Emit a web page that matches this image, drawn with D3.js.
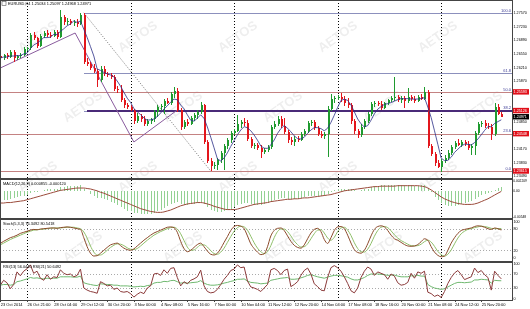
<!DOCTYPE html>
<html lang="en">
<head>
<meta charset="UTF-8">
<title>EURUSD,H4</title>
<script src="https://cdnjs.cloudflare.com/ajax/libs/d3/7.9.0/d3.min.js"></script>
<style>
  body { margin: 0; background: #fff; }
  svg { display: block; font-family: "Liberation Sans", Arial, sans-serif; }
</style>
</head>
<body>
<svg id="chart" width="530" height="309"></svg>
<script>
// ---- data (EURUSD H4, 23 Oct - 26 Nov 2014) ----
const opens = [1.26490,1.26440,1.26515,1.26465,1.26590,1.26440,1.26490,1.26515,1.26665,1.26690,1.27015,1.26940,1.26740,1.26990,1.27065,1.27015,1.26990,1.27090,1.26965,1.27465,1.27340,1.27365,1.27315,1.27340,1.27290,
 1.27515,1.26340,1.26290,1.26190,1.26115,1.25890,1.26165,1.26040,1.26015,1.25965,1.25665,1.25640,1.25390,1.25265,1.25215,1.25140,1.24865,1.24990,1.24915,1.24790,1.24865,1.24915,1.25090,1.25215,1.25240,
 1.25365,1.25315,1.25540,1.25615,1.25140,1.24715,1.24840,1.24790,1.24940,1.25015,1.25090,1.25265,1.24340,1.23865,1.23740,1.23765,1.23890,1.24065,1.24240,1.24390,1.24565,1.24615,1.24790,1.24840,1.24815,
 1.24415,1.24240,1.24265,1.24190,1.24090,1.24140,1.24215,1.24715,1.24790,1.24915,1.24740,1.24590,1.24390,1.24340,1.24415,1.24390,1.24540,1.24615,1.24815,1.24840,1.24690,1.24540,1.24490,1.24540,1.25165,
 1.25415,1.25440,1.25465,1.25415,1.25315,1.25265,1.24865,1.24615,1.24515,1.24715,1.24865,1.25040,1.25290,1.25315,1.25290,1.25190,1.25315,1.25390,1.25440,1.25465,1.25390,1.25440,1.25365,1.25465,1.25415,
 1.25365,1.25465,1.25415,1.25590,1.24240,1.24040,1.23815,1.23715,1.23865,1.23940,1.24065,1.24215,1.24315,1.24265,1.24340,1.24290,1.24190,1.24240,1.24565,1.24790,1.24815,1.24740,1.24715,1.24540,1.25215,
 1.25034];
const highs = [1.26590,1.26540,1.26565,1.26640,1.26640,1.26515,1.26565,1.26715,1.26715,1.27065,1.27090,1.26965,1.27040,1.27115,1.27140,1.27090,1.27140,1.27140,1.27640,1.27515,1.27440,1.27415,1.27390,1.27415,1.27565,
 1.27570,1.26440,1.26340,1.26290,1.26165,1.26240,1.26240,1.26090,1.26065,1.26015,1.25740,1.25765,1.25440,1.25315,1.25265,1.25165,1.25065,1.25040,1.24990,1.24915,1.24940,1.25140,1.25265,1.25290,1.25415,
 1.25440,1.25590,1.25715,1.25690,1.25190,1.24890,1.24915,1.24990,1.25065,1.25140,1.25340,1.25290,1.24390,1.23940,1.23840,1.23940,1.24115,1.24290,1.24440,1.24615,1.24665,1.25015,1.24890,1.24940,1.24890,
 1.24465,1.24315,1.24315,1.24265,1.24190,1.24265,1.24765,1.24865,1.24990,1.24990,1.24940,1.24640,1.24465,1.24490,1.24490,1.24590,1.24665,1.24865,1.24890,1.24890,1.24740,1.24615,1.24590,1.25240,1.25540,
 1.25490,1.25515,1.25565,1.25490,1.25440,1.25315,1.24915,1.24665,1.24790,1.24915,1.25090,1.25340,1.25365,1.25365,1.25365,1.25340,1.25415,1.25490,1.25965,1.25515,1.25490,1.25490,1.25690,1.25515,1.25490,
 1.25515,1.25540,1.25715,1.25640,1.24290,1.24090,1.23890,1.23915,1.24015,1.24140,1.24265,1.24365,1.24415,1.24390,1.24390,1.24365,1.24290,1.24615,1.24840,1.24865,1.24890,1.24815,1.24790,1.25315,1.25290,
 1.25097];
const lows = [1.26390,1.26390,1.26415,1.26440,1.26340,1.26390,1.26440,1.26490,1.26615,1.26640,1.26890,1.26690,1.26715,1.26940,1.26965,1.26940,1.26965,1.26915,1.26940,1.27265,1.27265,1.27265,1.27240,1.27215,1.27265,
 1.26290,1.26240,1.26140,1.26065,1.25715,1.25840,1.25990,1.25965,1.25915,1.25615,1.25565,1.25340,1.25190,1.25165,1.25115,1.24790,1.24815,1.24840,1.24740,1.24740,1.24790,1.24840,1.24965,1.25140,1.25040,
 1.25290,1.25265,1.25440,1.25090,1.24640,1.24665,1.24740,1.24765,1.24865,1.24915,1.25040,1.24290,1.23815,1.23615,1.23665,1.23640,1.23815,1.23640,1.24165,1.24315,1.24515,1.24590,1.24690,1.24740,1.24365,
 1.24190,1.24165,1.24140,1.23940,1.24040,1.24090,1.24165,1.24665,1.24740,1.24690,1.24540,1.24315,1.24265,1.24240,1.24340,1.24365,1.24490,1.24565,1.24740,1.24640,1.24490,1.24440,1.24415,1.23965,1.25115,
 1.25315,1.25390,1.25340,1.25240,1.25190,1.24790,1.24540,1.24440,1.24465,1.24665,1.24815,1.24990,1.25215,1.25240,1.25140,1.25165,1.25265,1.25340,1.25365,1.25340,1.25315,1.25190,1.25315,1.25365,1.25315,
 1.25340,1.25390,1.25390,1.24190,1.23990,1.23740,1.23690,1.23590,1.23815,1.23890,1.24015,1.24165,1.24240,1.24215,1.24240,1.24140,1.24015,1.24015,1.24515,1.24715,1.24690,1.24665,1.24390,1.24490,1.25015,
 1.24968];
const closes = [1.26440,1.26515,1.26465,1.26590,1.26440,1.26490,1.26515,1.26665,1.26690,1.27015,1.26940,1.26740,1.26990,1.27065,1.27015,1.26990,1.27090,1.26965,1.27465,1.27340,1.27365,1.27315,1.27340,1.27290,1.27515,
 1.26340,1.26290,1.26190,1.26115,1.25890,1.26165,1.26040,1.26015,1.25965,1.25665,1.25640,1.25390,1.25265,1.25215,1.25140,1.24865,1.24990,1.24915,1.24790,1.24865,1.24915,1.25090,1.25215,1.25240,1.25365,
 1.25315,1.25540,1.25615,1.25140,1.24715,1.24840,1.24790,1.24940,1.25015,1.25090,1.25265,1.24340,1.23865,1.23740,1.23765,1.23890,1.24065,1.24240,1.24390,1.24565,1.24615,1.24790,1.24840,1.24815,1.24415,
 1.24240,1.24265,1.24190,1.24090,1.24140,1.24215,1.24715,1.24790,1.24915,1.24740,1.24590,1.24390,1.24340,1.24415,1.24390,1.24540,1.24615,1.24815,1.24840,1.24690,1.24540,1.24490,1.24540,1.25165,1.25415,
 1.25440,1.25465,1.25415,1.25315,1.25265,1.24865,1.24615,1.24515,1.24715,1.24865,1.25040,1.25290,1.25315,1.25290,1.25190,1.25315,1.25390,1.25440,1.25465,1.25390,1.25440,1.25365,1.25465,1.25415,1.25365,
 1.25465,1.25415,1.25590,1.24240,1.24040,1.23815,1.23715,1.23865,1.23940,1.24065,1.24215,1.24315,1.24265,1.24340,1.24290,1.24190,1.24240,1.24565,1.24790,1.24815,1.24740,1.24715,1.24540,1.25215,1.25034,
 1.24971];
// short moving average line drawn over the candles
const maLine = [1.26440,1.26465,1.26465,1.26490,1.26490,1.26500,1.26500,1.26540,1.26560,1.26675,1.26765,1.26810,1.26875,1.26950,1.26950,1.26960,1.27030,1.27025,1.27105,1.27170,1.27245,1.27290,1.27365,1.27330,1.27365,
 1.27160,1.26955,1.26725,1.26490,1.26165,1.26130,1.26080,1.26045,1.26015,1.25970,1.25865,1.25735,1.25585,1.25435,1.25330,1.25175,1.25095,1.25025,1.24940,1.24885,1.24895,1.24915,1.24975,1.25065,1.25165,
 1.25245,1.25335,1.25415,1.25395,1.25265,1.25170,1.25020,1.24885,1.24860,1.24935,1.25020,1.24930,1.24715,1.24460,1.24195,1.23920,1.23865,1.23940,1.24070,1.24230,1.24375,1.24520,1.24640,1.24725,1.24695,
 1.24620,1.24515,1.24385,1.24240,1.24185,1.24180,1.24270,1.24390,1.24555,1.24675,1.24750,1.24685,1.24595,1.24495,1.24425,1.24415,1.24460,1.24555,1.24640,1.24700,1.24700,1.24675,1.24620,1.24685,1.24830,
 1.25010,1.25205,1.25380,1.25410,1.25380,1.25265,1.25095,1.24915,1.24795,1.24715,1.24750,1.24885,1.25045,1.25160,1.25225,1.25280,1.25300,1.25325,1.25360,1.25400,1.25425,1.25420,1.25425,1.25415,1.25410,
 1.25415,1.25425,1.25450,1.25215,1.24950,1.24620,1.24280,1.23935,1.23875,1.23880,1.23960,1.24080,1.24160,1.24240,1.24285,1.24280,1.24265,1.24325,1.24415,1.24520,1.24630,1.24725,1.24720,1.24805,1.24850,
 1.24895];

// time labels, one every 8 bars
const timeLabels = ["23 Oct 2014","26 Oct 21:00","28 Oct 04:00","29 Oct 12:00","30 Oct 20:00","3 Nov 00:00","4 Nov 08:00","5 Nov 16:00","7 Nov 00:00","10 Nov 04:00",
 "11 Nov 12:00","12 Nov 20:00","14 Nov 04:00","17 Nov 08:00","18 Nov 16:00","20 Nov 00:00","21 Nov 08:00","24 Nov 12:00","25 Nov 20:00"];
const weekStarts = [8, 39, 70, 101, 132]; // Sunday bars -> dotted grid
const priceTicks = [1.27570,1.27230,1.26890,1.26550,1.26210,1.25870,1.24850,1.24170,1.23830,1.23490];

// fibonacci retracement and horizontal lines
const fibHigh = 1.27570, fibLow = 1.23615;
const fibLevels = [100, 61.8, 50, 38.2, 23.6, 0];
const hLines = [1.25593, 1.25126, 1.24548, 1.23615];

// hand drawn lines: [bar, price]
const trendLines = [
  [[0, 1.26190], [22.4, 1.27065]],
  [[22.4, 1.27065], [40, 1.24340]],
  [[40, 1.24340], [53, 1.25140]]
];
const fibDiagonal = [[25, 1.27570], [63, 1.23615]];

// MACD(12,26,9)
const macdMain = [-0.0022,-0.0020,-0.0019,-0.0017,-0.0016,-0.0014,-0.0012,-0.0010,-0.0008,-0.0005,-0.0003,-0.0002,0.0000,0.0002,0.0003,0.0004,0.0005,0.0005,0.0008,0.0009,0.0010,0.0010,0.0010,0.0010,0.0012,
 0.0005,-0.0001,-0.0006,-0.0011,-0.0015,-0.0016,-0.0018,-0.0020,-0.0023,-0.0027,-0.0031,-0.0035,-0.0039,-0.0042,-0.0044,-0.0047,-0.0048,-0.0049,-0.0050,-0.0050,-0.0049,-0.0047,-0.0044,-0.0041,-0.0037,
 -0.0033,-0.0029,-0.0025,-0.0024,-0.0028,-0.0030,-0.0030,-0.0029,-0.0028,-0.0026,-0.0023,-0.0028,-0.0035,-0.0041,-0.0044,-0.0045,-0.0045,-0.0043,-0.0041,-0.0038,-0.0035,-0.0031,-0.0028,-0.0026,-0.0027,
 -0.0029,-0.0030,-0.0030,-0.0030,-0.0029,-0.0027,-0.0023,-0.0020,-0.0017,-0.0016,-0.0016,-0.0017,-0.0018,-0.0018,-0.0017,-0.0016,-0.0014,-0.0012,-0.0010,-0.0010,-0.0011,-0.0011,-0.0010,-0.0006,-0.0002,
 0.0001,0.0003,0.0005,0.0005,0.0005,0.0003,0.0001,0.0000,0.0001,0.0003,0.0005,0.0008,0.0010,0.0011,0.0012,0.0012,0.0013,0.0013,0.0013,0.0013,0.0013,0.0012,0.0012,0.0012,0.0011,
 0.0011,0.0012,0.0013,0.0006,-0.0003,-0.0013,-0.0020,-0.0027,-0.0031,-0.0033,-0.0033,-0.0032,-0.0030,-0.0028,-0.0026,-0.0024,-0.0022,-0.0018,-0.0013,-0.0009,-0.0006,-0.0004,-0.0003,0.0002,0.0006,
 0.000855];
const macdSignal = [-0.0026,-0.0026,-0.0025,-0.0025,-0.0024,-0.0023,-0.0022,-0.0021,-0.0019,-0.0017,-0.0015,-0.0013,-0.0011,-0.0009,-0.0007,-0.0005,-0.0003,-0.0001,0.0001,0.0002,0.0003,0.0004,0.0005,0.0006,0.0006,
 0.0006,0.0005,0.0004,0.0002,0.0000,-0.0003,-0.0005,-0.0008,-0.0011,-0.0014,-0.0017,-0.0020,-0.0023,-0.0026,-0.0029,-0.0032,-0.0035,-0.0038,-0.0040,-0.0042,-0.0044,-0.0045,-0.0046,-0.0046,-0.0045,
 -0.0043,-0.0041,-0.0038,-0.0035,-0.0032,-0.0030,-0.0028,-0.0027,-0.0026,-0.0025,-0.0025,-0.0026,-0.0028,-0.0030,-0.0033,-0.0035,-0.0037,-0.0039,-0.0040,-0.0040,-0.0040,-0.0039,-0.0037,-0.0035,-0.0033,
 -0.0031,-0.0029,-0.0028,-0.0027,-0.0026,-0.0025,-0.0023,-0.0022,-0.0021,-0.0020,-0.0019,-0.0018,-0.0018,-0.0017,-0.0017,-0.0016,-0.0015,-0.0015,-0.0014,-0.0013,-0.0012,-0.0011,-0.0010,-0.0009,-0.0008,
 -0.0006,-0.0004,-0.0002,0.0000,0.0001,0.0002,0.0003,0.0004,0.0005,0.0006,0.0007,0.0008,0.0009,0.0009,0.0010,0.0010,0.0010,0.0010,0.0010,0.0011,0.0011,0.0011,0.0011,0.0011,0.0011,
 0.0011,0.0010,0.0009,0.0006,0.0002,-0.0003,-0.0008,-0.0013,-0.0017,-0.0020,-0.0023,-0.0025,-0.0027,-0.0028,-0.0029,-0.0029,-0.0029,-0.0028,-0.0026,-0.0023,-0.0020,-0.0017,-0.0013,-0.0009,-0.0005,
 -0.000120];
const macdTicks = [["0.002209", 0.002209], ["0.00", 0], ["-0.00548", -0.00548]];

// Stochastic
const stochMain = [39,45,50,55,58,62,67,70,73,76,78,77,79,80,81,82,82,81,83,84,85,84,82,80,78,
 55,30,12,4,5,12,20,28,35,38,40,33,26,22,20,24,32,40,48,55,62,68,72,76,80,
 84,85,83,70,45,25,16,20,28,36,40,30,18,9,7,12,25,42,58,75,86,89,87,80,60,
 38,25,15,8,10,30,60,75,81,82,75,60,45,34,28,26,35,52,68,78,81,72,50,39,55,
 75,85,86,80,62,40,22,14,12,20,38,60,78,86,88,85,75,62,52,48,42,36,32,31,32,
 36,44,52,48,30,15,6,2,4,20,40,55,67,75,78,80,82,86,88,87,84,80,78,82,80,
 76.35];
const stochSignal = [35,40,45,50,54,58,62,66,70,73,76,77,78,79,80,81,82,82,82,83,84,84,84,82,80,
 71,54,32,15,7,7,12,20,28,34,38,37,33,27,23,22,25,32,40,48,55,62,67,72,76,
 80,83,84,79,66,47,29,20,21,28,35,35,29,19,11,9,15,26,42,58,73,83,87,85,76,
 59,41,26,16,11,16,33,55,72,79,79,72,60,46,36,29,30,38,52,66,76,77,68,54,48,
 56,72,82,84,76,61,41,25,16,15,23,39,59,75,84,86,83,74,63,54,47,42,37,33,32,
 33,37,44,48,43,31,17,8,4,9,21,38,54,66,73,78,80,83,85,87,86,84,81,80,80,
 80.54];
const stochTicks = [100, 80, 20, 0];

// RSI
const rsiFast = [38,52,45,28,40,76,65,78,85,96,72,78,58,52,68,55,62,60,82,72,68,70,62,66,84,
 30,24,20,18,15,48,43,36,38,26,30,20,18,20,14,4,12,18,14,30,36,70,72,66,82,
 72,86,88,60,36,48,42,52,56,62,81,36,20,16,18,26,40,55,66,80,84,96,88,90,50,
 33,30,26,20,30,40,82,86,80,68,80,84,34,40,48,66,80,87,70,42,34,24,22,60,88,
 94,88,78,62,43,22,16,30,60,78,90,84,66,76,72,68,55,70,64,45,38,40,46,72,58,
 76,72,78,18,14,6,10,3,20,43,60,73,80,68,54,58,62,87,74,80,68,60,24,78,66,
 56.04];
const rsiSlow = [38,40,40,38,40,48,50,53,56,60,58,59,57,56,58,57,58,58,62,62,62,62,61,61,64,
 45,42,40,38,37,42,41,40,40,38,38,36,36,36,35,33,34,35,34,37,38,44,46,46,49,
 48,51,52,48,44,45,44,45,46,47,51,44,40,38,38,39,41,44,46,49,51,55,55,56,50,
 46,45,44,42,43,44,52,54,56,58,59,60,55,55,56,59,62,66,68,65,62,60,58,61,64,
 66,66,65,63,61,56,53,53,56,60,66,70,70,70,69,68,66,67,67,64,62,62,62,65,64,
 66,64,64,40,34,30,28,26,28,33,38,43,46,46,45,46,47,53,53,55,54,53,44,52,51,
 50.65];
const rsiTicks = [100, 70, 30, 0];

const panelLabels = ["MACD(12,26,9) 0.000855 -0.000120", "Stoch(5,3,3) 76.3492 80.5418", "RSI(13) 56.0440 RSI(21) 50.6492"];

// ---- layout ----
const plotRight = 512;
const svg = d3.select("#chart");
const fmt5 = d3.format(".5f");

const x = d3.scaleLinear().domain([0, closes.length - 1]).range([0.3, 501.3]);
const yMain = d3.scaleLinear().domain([1.23465, 1.27890]).range([177, 0]);
const yMacd = d3.scaleLinear().domain([-0.00548, 0.002209]).range([216.5, 180.5]);
const yStoch = d3.scaleLinear().domain([0, 100]).range([257.5, 221.5]);
const yRsi = d3.scaleLinear().domain([0, 100]).range([298.5, 263.5]);

svg.append("rect").attr("width", 530).attr("height", 309).attr("fill", "#fff");

// watermark (kept inside the canvas)
const wm = svg.append("g").attr("fill", "#000").attr("opacity", 0.07)
  .attr("font-size", 13).attr("font-weight", "bold");
for (let r = 0; r < 4; r++) {
  for (let c = 0; c < 5; c++) {
    const wx = 40 + c * 100 + (r % 2) * 45, wy = 40 + r * 70;
    wm.append("text").attr("transform", `translate(${wx},${wy}) rotate(-35)`)
      .attr("text-anchor", "middle").text("AETOS");
  }
}

// vertical dotted grid
svg.append("g").selectAll("line").data(weekStarts).join("line")
  .attr("x1", d => Math.round(x(d)) + 0.5).attr("x2", d => Math.round(x(d)) + 0.5)
  .attr("y1", 0).attr("y2", 300)
  .attr("stroke", "#000").attr("stroke-dasharray", "1,2");

// ---- main panel ----
const main = svg.append("g");
const clip = svg.append("clipPath").attr("id", "mainclip");
clip.append("rect").attr("x", 0).attr("y", 0).attr("width", plotRight).attr("height", 177);

// fib levels
const fibPrice = l => fibLow + (fibHigh - fibLow) * l / 100;
main.append("g").attr("shape-rendering", "crispEdges").selectAll("line").data(fibLevels).join("line")
  .attr("x1", x(25)).attr("x2", plotRight)
  .attr("y1", d => Math.round(yMain(fibPrice(d))) + 0.5).attr("y2", d => Math.round(yMain(fibPrice(d))) + 0.5)
  .attr("stroke", "#8c90bd");

// horizontal lines (full width)
const hl = main.append("g").attr("shape-rendering", "crispEdges");
hl.selectAll("line").data([hLines[0], hLines[2], hLines[3]]).join("line")
  .attr("x1", 0).attr("x2", plotRight)
  .attr("y1", d => Math.round(yMain(d)) + 0.5).attr("y2", d => Math.round(yMain(d)) + 0.5)
  .attr("stroke", "#c48282");
hl.append("line")
  .attr("x1", x(26)).attr("x2", plotRight)
  .attr("y1", Math.round(yMain(hLines[1]))).attr("y2", Math.round(yMain(hLines[1])))
  .attr("stroke", "#4a2a78").attr("stroke-width", 2);

main.append("g").selectAll("text").data(fibLevels).join("text")
  .attr("x", plotRight - 1).attr("y", d => yMain(fibPrice(d)) - 1.2)
  .attr("text-anchor", "end").attr("font-size", 4).attr("fill", "#3c3c96")
  .text(d => d.toFixed(1));

main.append("path").datum(fibDiagonal)
  .attr("d", d3.line().x(d => x(d[0])).y(d => yMain(d[1])))
  .attr("fill", "none").attr("stroke", "#777").attr("stroke-dasharray", "1,1.5");

main.append("g").attr("clip-path", "url(#mainclip)").selectAll("path").data(trendLines).join("path")
  .attr("d", d3.line().x(d => x(d[0])).y(d => yMain(d[1])))
  .attr("fill", "none").attr("stroke", "#8a5c9e").attr("stroke-width", 1);

// candles
const bars = closes.map((c, i) => ({ i, o: opens[i], h: highs[i], l: lows[i], c }));
const candle = main.append("g").attr("shape-rendering", "crispEdges").selectAll("g").data(bars).join("g");
candle.append("line")
  .attr("x1", d => Math.round(x(d.i)) + 0.5).attr("x2", d => Math.round(x(d.i)) + 0.5)
  .attr("y1", d => yMain(d.h)).attr("y2", d => yMain(d.l))
  .attr("stroke", d => d.c >= d.o ? "#1f9a2f" : "#e3161c");
candle.append("rect")
  .attr("x", d => Math.round(x(d.i)) - 0.5).attr("width", 2)
  .attr("y", d => yMain(Math.max(d.o, d.c)))
  .attr("height", d => Math.max(1, Math.abs(yMain(d.o) - yMain(d.c))))
  .attr("fill", d => d.c >= d.o ? "#1f9a2f" : "#e3161c");

// moving average
main.append("path").datum(maLine)
  .attr("d", d3.line().x((d, i) => x(i)).y(d => yMain(d)))
  .attr("fill", "none").attr("stroke", "#2b2f86").attr("stroke-width", 0.8);

// header
const last = bars[bars.length - 1];
svg.append("text").attr("x", 8).attr("y", 5).attr("font-size", 3.9).attr("fill", "#000")
  .text(`EURUSD,H4  ${fmt5(last.o)} ${fmt5(last.h)} ${fmt5(last.l)} ${fmt5(last.c)}`);
svg.append("rect").attr("x", 2).attr("y", 1.5).attr("width", 4).attr("height", 4)
  .attr("fill", "none").attr("stroke", "#555").attr("stroke-width", 0.6);

// ---- MACD panel ----
svg.append("g").attr("shape-rendering", "crispEdges").selectAll("line").data(macdMain).join("line")
  .attr("x1", (d, i) => Math.round(x(i)) + 0.5).attr("x2", (d, i) => Math.round(x(i)) + 0.5)
  .attr("y1", yMacd(0)).attr("y2", d => yMacd(d))
  .attr("stroke", "#93d193");
svg.append("path").datum(macdSignal)
  .attr("d", d3.line().x((d, i) => x(i)).y(d => yMacd(d)).curve(d3.curveMonotoneX))
  .attr("fill", "none").attr("stroke", "#9a4a3a").attr("stroke-width", 1);

// ---- Stochastic panel ----
svg.append("g").selectAll("line").data([80, 20]).join("line")
  .attr("x1", 0).attr("x2", plotRight)
  .attr("y1", d => Math.round(yStoch(d)) + 0.5).attr("y2", d => Math.round(yStoch(d)) + 0.5)
  .attr("stroke", "#aaa").attr("stroke-dasharray", "1,2");
svg.append("path").datum(stochSignal)
  .attr("d", d3.line().x((d, i) => x(i)).y(d => yStoch(d)).curve(d3.curveMonotoneX))
  .attr("fill", "none").attr("stroke", "#8fbf6a").attr("stroke-width", 1);
svg.append("path").datum(stochMain)
  .attr("d", d3.line().x((d, i) => x(i)).y(d => yStoch(d)).curve(d3.curveMonotoneX))
  .attr("fill", "none").attr("stroke", "#8b4a2a").attr("stroke-width", 1);

// ---- RSI panel ----
svg.append("g").selectAll("line").data([70, 30]).join("line")
  .attr("x1", 0).attr("x2", plotRight)
  .attr("y1", d => Math.round(yRsi(d)) + 0.5).attr("y2", d => Math.round(yRsi(d)) + 0.5)
  .attr("stroke", "#aaa").attr("stroke-dasharray", "1,2");
svg.append("path").datum(rsiSlow)
  .attr("d", d3.line().x((d, i) => x(i)).y(d => yRsi(d)))
  .attr("fill", "none").attr("stroke", "#6fb86f").attr("stroke-width", 1);
svg.append("path").datum(rsiFast)
  .attr("d", d3.line().x((d, i) => x(i)).y(d => yRsi(d)))
  .attr("fill", "none").attr("stroke", "#8b3a3a").attr("stroke-width", 1);

// ---- frames ----
const frame = svg.append("g").attr("shape-rendering", "crispEdges");
[[0, 178], [179, 218], [219, 261], [262, 300]].forEach(([t, b]) => {
  frame.append("rect").attr("x", 0.5).attr("y", t + 0.5).attr("width", plotRight - 0.5).attr("height", b - t)
    .attr("fill", "none").attr("stroke", "#444");
});
frame.append("line").attr("x1", plotRight + 0.5).attr("x2", plotRight + 0.5).attr("y1", 0).attr("y2", 301)
  .attr("stroke", "#444");

// panel labels
svg.append("g").attr("font-size", 3.9).attr("fill", "#000").selectAll("text").data(panelLabels).join("text")
  .attr("x", 3).attr("y", (d, i) => [184.5, 225, 267.5][i]).text(d => d);

// ---- right axis ----
const axisG = svg.append("g").attr("font-size", 3.7).attr("fill", "#000");
axisG.selectAll(".pt").data(priceTicks).join("text").attr("class", "pt")
  .attr("x", plotRight + 1.5).attr("y", d => yMain(d) + 1.3).text(d => fmt5(d));
axisG.selectAll(".mt").data(macdTicks).join("text").attr("class", "mt")
  .attr("x", plotRight + 1.2).attr("y", d => yMacd(d[1]) + 1.3).attr("font-size", 3.3).text(d => d[0]);
axisG.selectAll(".st").data(stochTicks).join("text").attr("class", "st")
  .attr("x", plotRight + 1.5).attr("y", d => yStoch(d) + 1.3).text(d => d);
axisG.selectAll(".rt").data(rsiTicks).join("text").attr("class", "rt")
  .attr("x", plotRight + 1.5).attr("y", d => yRsi(d) + 1.3).text(d => d);

// price tags for horizontal lines and current bid
const tags = svg.append("g").attr("font-size", 3.7);
hLines.forEach(p => {
  tags.append("rect").attr("x", plotRight + 1).attr("y", yMain(p) - 2.7).attr("width", 16).attr("height", 5.4).attr("fill", "#e0101a");
  tags.append("text").attr("x", plotRight + 1.6).attr("y", yMain(p) + 1.3).attr("fill", "#fff").text(fmt5(p));
});
tags.append("rect").attr("x", plotRight + 1).attr("y", yMain(last.c) - 2.7).attr("width", 16).attr("height", 5.4).attr("fill", "#000");
tags.append("text").attr("x", plotRight + 1.6).attr("y", yMain(last.c) + 1.3).attr("fill", "#fff").text(fmt5(last.c));

// ---- time axis ----
svg.append("g").attr("font-size", 4).attr("fill", "#000").selectAll("text").data(timeLabels).join("text")
  .attr("x", (d, i) => x(i * 8) + 0.5).attr("y", 306).text(d => d);
svg.append("g").attr("shape-rendering", "crispEdges").selectAll("line").data(timeLabels).join("line")
  .attr("x1", (d, i) => Math.round(x(i * 8)) + 0.5).attr("x2", (d, i) => Math.round(x(i * 8)) + 0.5)
  .attr("y1", 300).attr("y2", 302).attr("stroke", "#444");
</script>
</body>
</html>
